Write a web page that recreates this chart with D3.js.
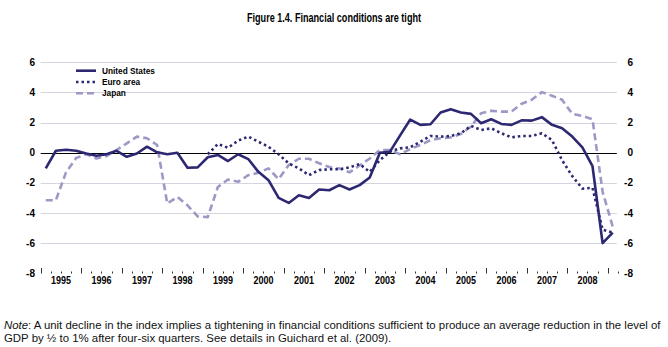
<!DOCTYPE html>
<html>
  <head>
    <meta charset="utf-8">
    <script type="text/javascript" src="https://d3js.org/d3.v7.min.js"></script>
  </head>
  <style>
body {
  margin: 0;
  background: #fff;
}
text {
  font-family: "Liberation Sans Narrow", "Arial Narrow", "Liberation Sans", Arial, sans-serif;
}
  </style>
  <body>
    <div id="my_chart"></div>
    <script type="text/javascript">
        // quarterly index, 1995Q1 .. 2009Q1
        var years = [1995, 1996, 1997, 1998, 1999, 2000, 2001, 2002, 2003, 2004, 2005, 2006, 2007, 2008];
        var yTicks = [-8, -6, -4, -2, 0, 2, 4, 6];

        var usValues = [
            -1.04, 0.13, 0.2, 0.13,
            -0.05, -0.2, -0.1, 0.13,
            -0.27, -0.05, 0.4, 0.03,
            -0.1, 0.0, -1.0, -0.97,
            -0.3, -0.15, -0.55, -0.1,
            -0.42, -1.27, -1.82, -3.0,
            -3.33, -2.82, -3.0, -2.44,
            -2.49, -2.15, -2.44, -2.15,
            -1.64, 0.0, 0.07, 1.15,
            2.2, 1.85, 1.89, 2.67,
            2.89, 2.67, 2.58, 1.96,
            2.22, 1.91, 1.85, 2.15,
            2.13, 2.36, 1.85, 1.62,
            1.07, 0.36, -0.89, -6.0,
            -5.3
        ];
        // euro area series begins in 1999Q1
        var euroStart = 16;
        var euroValues = [
            -0.1, 0.58, 0.33, 0.8,
            1.07, 0.73, 0.4, -0.1,
            -0.71, -1.04, -1.49, -1.15,
            -1.1, -1.1, -0.97, -0.75,
            -1.27, -0.49, 0.07, 0.29,
            0.36, 0.73, 1.11, 1.07,
            1.11, 1.29, 1.78, 1.51,
            1.62, 1.29, 1.02, 1.11,
            1.11, 1.29, 0.84, -0.5,
            -1.55, -2.38, -2.33, -5.1,
            -5.3
        ];
        var japanValues = [
            -3.15, -3.15, -1.3, -0.35,
            -0.1, -0.38, -0.22, 0.18,
            0.62, 1.07, 0.96, 0.51,
            -3.37, -2.93, -3.49, -4.22,
            -4.27, -2.27, -1.78, -1.93,
            -1.49, -1.33, -1.04, -1.75,
            -0.82, -0.4, -0.4, -0.7,
            -0.95, -1.05, -1.3, -0.85,
            -0.38, 0.18, 0.18, -0.1,
            0.25, 0.51, 0.84, 0.96,
            1.02, 1.24, 1.73, 2.62,
            2.78, 2.73, 2.73, 3.25,
            3.51, 4.02, 3.78, 3.51,
            2.58, 2.44, 2.22, -2.6,
            -4.9
        ];

        var seriesNames = ["United States", "Euro area", "Japan"];
        var navy = "#2c2872", lilac = "#9d99c6";

        var width = 668, height = 347;
        var nQuarters = usValues.length;

        var svg = d3.select("#my_chart")
            .append("svg")
                .attr("width", width)
                .attr("height", height);

        svg.append("rect")
            .attr("width", width)
            .attr("height", height)
            .attr("fill", "#fff");

        // title is set in a condensed face; squeeze it to the narrow width
        svg.append("text")
            .attr("x", 334)
            .attr("y", 22)
            .attr("text-anchor", "middle")
            .attr("font-size", "12.5px")
            .attr("font-weight", "bold")
            .attr("textLength", 174)
            .attr("lengthAdjust", "spacingAndGlyphs")
            .text("Figure 1.4. Financial conditions are tight");

        // x in quarter units, points sit in the middle of each quarter
        var x = d3.scaleLinear()
                .domain([0, nQuarters])
                .range([40.7, 617.8]);
        var y = d3.scaleLinear()
                .domain([-8, 6])
                .range([273.3, 62.3]);

        // horizontal grid
        svg.append("g")
            .selectAll("line")
            .data(yTicks.filter(function(d) { return d > -8; }))
            .enter().append("line")
              .attr("x1", x(0))
              .attr("x2", x(nQuarters) - 1)
              .attr("y1", function(d) { return Math.round(y(d)) + 0.5; })
              .attr("y2", function(d) { return Math.round(y(d)) + 0.5; })
              .attr("stroke", function(d) { return d === 0 ? "#000" : "#d6d5df"; })
              .attr("stroke-width", 1);

        // y labels on both sides
        var yLabels = svg.append("g")
            .attr("font-size", "10px")
            .attr("font-weight", "bold");
        yLabels.selectAll(".left")
            .data(yTicks)
            .enter().append("text")
              .attr("class", "left")
              .attr("x", 35)
              .attr("y", function(d) { return y(d); })
              .attr("dy", "0.36em")
              .attr("text-anchor", "end")
              .text(function(d) { return d; });
        yLabels.selectAll(".right")
            .data(yTicks)
            .enter().append("text")
              .attr("class", "right")
              .attr("x", 633)
              .attr("y", function(d) { return y(d); })
              .attr("dy", "0.36em")
              .attr("text-anchor", "end")
              .text(function(d) { return d; });

        // quarter ticks along the bottom, taller at year boundaries
        var boundaries = d3.range(0, nQuarters + 1);
        svg.append("g")
            .selectAll("line")
            .data(boundaries)
            .enter().append("line")
              .attr("x1", function(d) { return Math.round(x(d)) + 0.5; })
              .attr("x2", function(d) { return Math.round(x(d)) + 0.5; })
              .attr("y1", function(d) { return d % 4 === 0 ? 268 : 271.5; })
              .attr("y2", 273.5)
              .attr("stroke", "#333")
              .attr("stroke-width", 1);

        svg.append("g")
            .attr("font-size", "10px")
            .attr("font-weight", "bold")
            .selectAll("text")
            .data(years)
            .enter().append("text")
              .attr("x", function(d, i) { return x(i * 4 + 2); })
              .attr("y", 284)
              .attr("text-anchor", "middle")
              .attr("textLength", 20)
              .attr("lengthAdjust", "spacingAndGlyphs")
              .text(function(d) { return d; });

        // lines
        var line = d3.line()
            .x(function(d) { return x(d.q + 0.5); })
            .y(function(d) { return y(d.v); });

        function toPoints(values, start) {
            return values.map(function(v, i) { return {q: start + i, v: v}; });
        }

        var series = [
            {name: seriesNames[2], pts: toPoints(japanValues, 0), color: lilac, dash: "7,4"},
            {name: seriesNames[1], pts: toPoints(euroValues, euroStart), color: navy, dash: "2.5,3"},
            {name: seriesNames[0], pts: toPoints(usValues, 0), color: navy, dash: null}
        ];

        svg.append("g")
            .selectAll("path")
            .data(series)
            .enter().append("path")
              .attr("d", function(d) { return line(d.pts); })
              .attr("fill", "none")
              .attr("stroke", function(d) { return d.color; })
              .attr("stroke-width", 2.6)
              .attr("stroke-linejoin", "round")
              .attr("stroke-dasharray", function(d) { return d.dash; });

        // legend
        var legendItems = series.slice().reverse();
        var legend = svg.append("g")
            .attr("font-size", "9px")
            .attr("font-weight", "bold");
        legend.selectAll("line")
            .data(legendItems)
            .enter().append("line")
              .attr("x1", 76)
              .attr("x2", 96)
              .attr("y1", function(d, i) { return 70.7 + i * 11.3; })
              .attr("y2", function(d, i) { return 70.7 + i * 11.3; })
              .attr("stroke", function(d) { return d.color; })
              .attr("stroke-width", 2.6)
              .attr("stroke-dasharray", function(d) { return d.dash; });
        legend.selectAll("text")
            .data(legendItems)
            .enter().append("text")
              .attr("x", 102)
              .attr("y", function(d, i) { return 70.7 + i * 11.3; })
              .attr("dy", "0.35em")
              .text(function(d) { return d.name; })
              .each(function() {
                  // condensed look: shrink each label to about 92% of its width
                  var w = this.getComputedTextLength();
                  d3.select(this)
                    .attr("textLength", w * 0.92)
                    .attr("lengthAdjust", "spacingAndGlyphs");
              });

        // footnote
        var note = svg.append("g")
            .attr("font-size", "11.4px")
            .attr("fill", "#111");
        var l1 = note.append("text")
            .attr("x", 4)
            .attr("y", 329);
        l1.append("tspan")
            .attr("font-style", "italic")
            .text("Note");
        l1.append("tspan")
            .text(": A unit decline in the index implies a tightening in financial conditions sufficient to produce an average reduction in the level of");
        note.append("text")
            .attr("x", 4)
            .attr("y", 342)
            .text("GDP by \u00BD to 1% after four-six quarters. See details in Guichard et al. (2009).");
    </script>
  </body>
</html>
